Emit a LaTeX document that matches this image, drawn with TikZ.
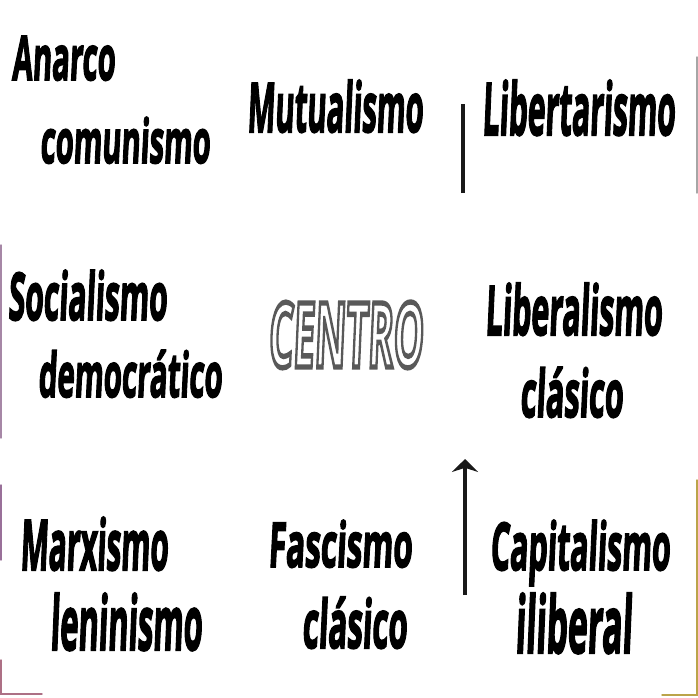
\documentclass[tikz,border=0pt]{standalone}
\usepackage{fontspec}
\usepackage{graphicx}
\usetikzlibrary{arrows.meta}
\newfontfamily\labfont[FakeSlant=0.1]{Open Sans}
\newcommand\heavy[1]{\special{pdf:literal direct 2 Tr 0.3 w 0 G}#1\special{pdf:literal direct 0 Tr}}
\newcommand\lbl[6]{\node[lab,anchor=base west] (#1) at (#2,#3) {\resizebox{#4pt}{#5pt}{\heavy{#6}}};}
\tikzset{
  lab/.style={inner sep=0pt,outer sep=0pt,font=\labfont\bfseries,text=black},
  stick/.style={line width=3.8pt,draw=black!90},
  rim/.style={line width=1.4pt,draw=#1,line cap=round},
}
\begin{document}
\begin{tikzpicture}[x=1pt,y=-1pt]
\useasboundingbox (0,0) rectangle (698,698);
\fill[white] (0,0) rectangle (698,698);
% faint frame remnants
\coordinate (e1a) at (1,245); \coordinate (e1b) at (1,438);
\coordinate (e2a) at (1,485); \coordinate (e2b) at (1,560);
\coordinate (e3a) at (1,660); \coordinate (e3b) at (1,694); \coordinate (e3c) at (42,694);
\coordinate (e4a) at (697,57); \coordinate (e4b) at (697,193);
\coordinate (e5a) at (697,480); \coordinate (e5b) at (697,695); \coordinate (e5c) at (662,695);
\draw[rim=violet!35!gray!70] (e1a) -- (e1b);
\draw[rim=violet!40!gray!80] (e2a) -- (e2b);
\draw[rim=purple!40!gray!80] (e3a) -- (e3b) -- (e3c);
\draw[rim=gray!70] (e4a) -- (e4b);
\draw[rim=olive!50!brown!80] (e5a) -- (e5b) -- (e5c);
% labels
\lbl{anarco}{12}{80}{103}{44}{Anarco}
\lbl{comun}{40}{163}{170}{46}{comunismo}
\lbl{mutual}{247}{132}{176}{52}{Mutualismo}
\lbl{libert}{482}{135}{193}{55}{Libertarismo}
\lbl{social}{8}{320}{159}{50}{Socialismo}
\lbl{democ}{38}{397}{184}{47}{democrático}
\lbl{liberal}{485}{335}{177}{52}{Liberalismo}
\lbl{clasA}{520}{417}{103}{50}{clásico}
\lbl{marx}{20}{570}{148}{53}{Marxismo}
\lbl{lenin}{50}{650}{152}{57}{leninismo}
\lbl{fasc}{268}{567}{144}{47}{Fascismo}
\lbl{clasB}{302}{648}{105}{51}{clásico}
\lbl{capit}{490}{570}{180}{50}{Capitalismo}
\lbl{ilib}{515}{653}{117}{60}{iliberal}
% CENTRO outlined (white fill, grey stroke)
\node[lab,anchor=base west,text=white] (centro) at (268,367)
  {\resizebox{155pt}{65pt}{\special{pdf:literal direct 2 Tr 0.6 w 0.35 G}CENTRO\special{pdf:literal direct 0 Tr}}};
% vertical lines
\coordinate (v1t) at (463,104); \coordinate (v1b) at (463,193);
\draw[stick] (v1b) -- (v1t);
\coordinate (v2t) at (465,459); \coordinate (v2b) at (465,595);
\draw[stick,-{Stealth[length=13pt,width=26pt]}] (v2b) -- (v2t);
\end{tikzpicture}
\end{document}
